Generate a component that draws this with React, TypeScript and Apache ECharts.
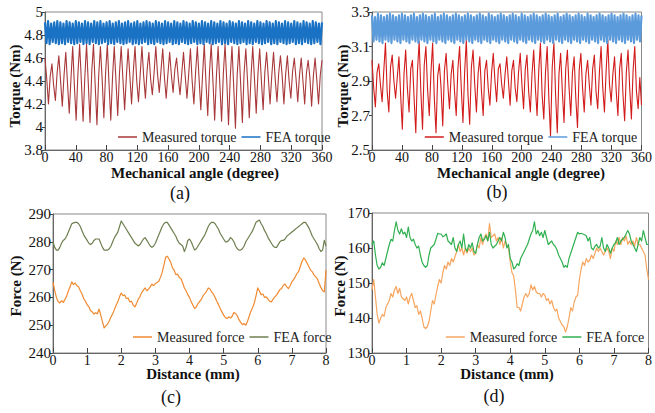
import React, { useEffect, useRef } from 'react';
import * as echarts from 'echarts';

const FONT = 'Liberation Serif';

// ---- (a) torque, 0..360 degree ----
const measuredTorqueA = [
  4.60,4.42,4.20,4.44, 4.55,4.36,4.23,4.47, 4.62,4.40,4.18,4.45, 4.65,4.38,4.12,4.42,
  4.70,4.35,4.06,4.46, 4.72,4.40,4.05,4.43, 4.72,4.38,4.04,4.48, 4.72,4.36,4.02,4.44,
  4.70,4.42,4.08,4.47, 4.72,4.37,4.06,4.43, 4.70,4.40,4.10,4.46, 4.70,4.42,4.15,4.44,
  4.68,4.45,4.20,4.48, 4.70,4.40,4.22,4.46, 4.70,4.44,4.25,4.50, 4.65,4.42,4.28,4.47,
  4.70,4.46,4.30,4.49, 4.68,4.43,4.25,4.46, 4.65,4.45,4.30,4.50, 4.60,4.42,4.28,4.47,
  4.65,4.44,4.25,4.46, 4.68,4.40,4.20,4.48, 4.70,4.42,4.15,4.45, 4.72,4.38,4.10,4.47,
  4.72,4.40,4.06,4.44, 4.70,4.37,4.05,4.46, 4.72,4.40,4.02,4.43, 4.70,4.35,3.99,4.45,
  4.70,4.38,4.04,4.47, 4.68,4.40,4.08,4.44, 4.70,4.42,4.12,4.46, 4.68,4.40,4.15,4.48,
  4.65,4.43,4.20,4.45, 4.65,4.41,4.22,4.47, 4.62,4.44,4.20,4.46, 4.62,4.40,4.25,4.48,
  4.60,4.42,4.22,4.45, 4.60,4.40,4.20,4.47, 4.58,4.43,4.18,4.44, 4.60,4.41,4.20,4.45,
  4.58,
];
const feaTorqueA = [
  4.91,4.73,4.92,4.72,4.90,4.74,4.91,4.73,4.92,4.72,4.91,4.73,4.90,4.72,4.92,4.74,4.91,4.73,4.90,4.72,
  4.92,4.73,4.91,4.74,4.90,4.72,4.92,4.73,4.91,4.72,4.90,4.74,4.92,4.73,4.91,4.72,4.92,4.73,4.90,4.74,
  4.91,4.72,4.92,4.73,4.90,4.72,4.91,4.74,4.92,4.73,4.90,4.72,4.91,4.73,4.92,4.74,4.90,4.72,4.91,4.73,
  4.92,4.72,4.90,4.73,4.91,4.74,4.92,4.72,4.91,4.73,4.90,4.72,4.92,4.74,4.91,4.73,4.90,4.72,4.92,4.73,
  4.91,4.74,4.90,4.72,4.92,4.73,4.91,4.72,4.90,4.74,4.92,4.73,4.91,4.72,4.90,4.73,4.92,4.74,4.91,4.72,
  4.90,4.73,4.92,4.72,4.91,4.74,4.90,4.73,4.92,4.72,4.91,4.73,4.90,4.74,4.92,4.72,4.91,4.73,4.90,4.72,
  4.92,4.74,4.91,4.73,4.90,4.72,4.92,4.73,4.91,4.74,4.90,4.72,4.92,4.73,4.91,4.72,4.90,4.74,4.92,4.73,
  4.91,4.72,4.90,4.73,4.92,4.74,4.91,4.72,4.90,4.73,4.92,4.72,4.91,4.74,4.90,4.73,4.92,4.72,4.91,4.73,
  4.90,4.74,4.92,4.72,4.91,4.73,4.90,4.72,4.92,4.74,4.91,4.73,4.90,4.72,4.92,4.73,4.91,4.74,4.90,4.72,
  4.91,
];

// ---- (b) torque, 0..360 degree ----
const measuredTorqueB = [
  3.02,2.86,2.75,2.95, 3.00,2.88,2.78,2.96, 3.12,2.84,2.72,2.98, 3.05,2.90,2.80,2.92,
  3.04,2.82,2.62,2.94, 3.08,2.86,2.72,2.97, 3.02,2.80,2.60,2.96, 3.13,2.84,2.62,2.99,
  3.10,2.85,2.70,2.95, 3.12,2.80,2.60,2.93, 3.00,2.86,2.64,2.96, 3.06,2.88,2.74,2.94,
  3.02,2.84,2.70,2.97, 3.10,2.86,2.66,2.95, 3.14,2.82,2.65,2.98, 3.08,2.88,2.72,2.94,
  3.04,2.84,2.70,2.96, 3.02,2.86,2.76,2.95, 3.06,2.90,2.78,2.97, 3.00,2.88,2.80,2.94,
  3.04,2.90,2.76,2.96, 3.02,2.86,2.78,2.95, 3.06,2.88,2.74,2.97, 3.05,2.84,2.72,2.94,
  3.08,2.86,2.70,2.96, 3.12,2.82,2.68,2.95, 3.10,2.80,2.58,2.98, 3.12,2.82,2.60,2.94,
  3.06,2.84,2.66,2.97, 3.08,2.86,2.70,2.95, 3.04,2.80,2.63,2.96, 3.06,2.86,2.72,2.94,
  3.02,2.88,2.76,2.97, 3.05,2.84,2.74,2.95, 3.10,2.86,2.72,2.96, 3.14,2.88,2.78,2.94,
  3.04,2.84,2.70,2.97, 3.06,2.82,2.67,2.95, 3.08,2.86,2.68,2.96, 3.10,2.84,2.74,2.92,
  2.76,
];
const feaTorqueB = [
  3.28,3.13,3.27,3.14,3.29,3.13,3.28,3.12,3.27,3.14,3.28,3.13,3.29,3.12,3.28,3.14,3.27,3.13,3.28,3.12,
  3.29,3.14,3.28,3.13,3.27,3.12,3.28,3.14,3.29,3.13,3.27,3.12,3.28,3.14,3.29,3.13,3.28,3.12,3.27,3.14,
  3.28,3.13,3.29,3.12,3.27,3.14,3.28,3.13,3.29,3.12,3.28,3.14,3.27,3.13,3.28,3.12,3.29,3.14,3.28,3.13,
  3.27,3.12,3.28,3.14,3.29,3.13,3.28,3.12,3.27,3.14,3.28,3.13,3.29,3.12,3.28,3.14,3.27,3.13,3.29,3.12,
  3.28,3.14,3.27,3.13,3.28,3.12,3.29,3.14,3.28,3.13,3.27,3.12,3.28,3.14,3.29,3.13,3.28,3.12,3.27,3.14,
  3.29,3.13,3.28,3.12,3.27,3.14,3.28,3.13,3.29,3.12,3.28,3.14,3.27,3.13,3.28,3.12,3.29,3.14,3.28,3.13,
  3.27,3.12,3.28,3.14,3.29,3.13,3.27,3.12,3.28,3.14,3.29,3.13,3.28,3.12,3.27,3.14,3.28,3.13,3.29,3.12,
  3.28,3.14,3.27,3.13,3.29,3.12,3.28,3.14,3.27,3.13,3.28,3.12,3.29,3.14,3.28,3.13,3.27,3.12,3.28,3.14,
  3.29,3.13,3.28,3.12,3.27,3.14,3.28,3.13,3.29,3.12,3.28,3.14,3.27,3.13,3.28,3.12,3.29,3.14,3.28,3.13,
  3.28,
];

// ---- (c) force, 0..8 mm, 0.05 mm steps ----
const measuredForceC = [
  265.5,262.5,260,258.5,258,258.8,258.2,259.2,260.5,262.3,263.8,265.6,264.6,265.2,264.2,263.8,262.4,261.2,259.6,258.6,
  257.4,256.6,255.2,254.8,254,254.5,254.1,255.8,253.6,251.2,249,249.8,250.4,251.6,253,254.1,255.6,257.2,258.4,260.2,
  261.6,260.6,260.9,259.6,259.8,258.4,258.6,257.2,256.6,257.8,259.4,260.3,261.8,262.6,263.4,262.4,263,263.8,264.8,264.2,
  265,265.4,265.8,267.2,269,271.6,274.4,274.8,273.8,272.6,270.6,269.8,268.2,268.4,267.2,266.8,265.2,263.4,262.4,261,
  260,258.4,257.2,256,256.6,257.8,258.6,259.4,260.6,261.4,262.2,263.4,263,262,261.2,260,258.6,257.4,256,254.8,
  253.6,252.8,252.4,253,252.6,253.2,254.6,254.2,253.4,252,251,250.2,250.6,250,251.4,253.2,255,256.4,258,260.6,
  263.4,262.2,261,261.2,260,260.2,259.4,258.6,258.4,259.4,260.2,260.8,261.8,262.8,263.2,264.4,264.8,263.8,263.2,264.2,
  265.6,266.4,267.4,268.6,269.4,271.2,273,274.2,273.4,272.2,271,269.8,269.2,268,267.4,266.6,265,263.6,262.4,262,
  269.8,
];
const feaForceC = [
  280,278,277,277,278,279.5,280.5,281,282,283.5,285,286.5,286.8,287,287,286.5,285.5,284,282.5,281.5,
  280.5,279.5,279,279.5,280.5,281,281,281,279.5,278,277,277,277,277.5,278.5,280,281.5,282.5,283.5,285.5,
  287.5,286.5,285.5,284.5,283.5,282.5,281.5,280.5,279.5,279,278.5,279,280,281,281.5,280.5,279.5,278.5,278,278.5,
  279.5,281,282.5,284,285.5,286.5,287,287,286,285,284,283,282,280.5,279.5,279,278.5,276.5,278,280.5,
  281,280,278.5,277,277.5,278.5,279.5,280.5,281.5,282.5,284,285.5,286.5,287,287,286.5,285.5,284.5,283,282,
  281,280,280,280.5,281.5,281,280,278.5,277.5,277,277,277.5,278.5,280,281,282,283,284,285.5,287,
  287.5,287.8,286.5,285.5,284,283,281.5,280.5,279.5,278.5,278,278,279,280,280.5,280.5,281,282,282.5,283,
  283.5,284,284.5,285,285.5,286,286.5,287,287,286,285,283.5,282,281,280,279,277.5,276.5,277,280.5,
  278.5,
];

// ---- (d) force, 0..8 mm, 0.05 mm steps ----
const measuredForceD = [
  148,151,146,141,138.5,140,141,140.5,143,144,145,147,146,148,149,147,148.5,146,145.5,145,
  146,144,146,147,145,143,143.5,141,142,140,137.5,137,137.5,139,142,145,144,146.5,149,151,
  150,153,155,154,156,155,157,156,157.5,159,161,159,160,158,160,158.5,160,159,160,158,
  158.5,161,160,163,161,163,164,162,167,163,163.5,164,162,163,161,163,160,162,161,160,
  156,153,152,148,143,143,142,144,146,147,146,147,149.5,148,149,147.5,147,147,146,147,
  146.5,145,145.5,144,145,143,142,142.5,140,139,138,137.5,136,137.5,140,143,142,144.5,146,146.5,
  151,154,156,155,157,156,156.5,158,157,158.5,160,159,160,159,158,159,160,159,157,160,
  159,162,161,163,161,163,162,163.5,161,162,161,162,160.5,163,161,161,160,159,158,154,
  151,
];
const feaForceD = [
  161,162,158,155,154,154.5,155.8,155,157,159,161,162.5,162,165,167.5,165,164,165.5,164,164.5,
  163,166,163,162,162.5,161,160,160.5,158,156,155,154.5,155,158,160,160.5,161,162.5,164.2,164,
  164,163.2,163.5,164,162,161.5,161,163,160,159,161,162,160,164,160,159,161,160,161.5,159,
  158.5,161,163,164,162,162.5,163.5,162,164.5,161,160,160.5,161,162,163,162,164.5,163,160,161,
  157,156,154,154.5,155.5,155,157,158,159,160,161,162.5,164,165,167.5,164,165,163.5,164.5,163,
  165,163,161,161.5,162,161,160.5,159.5,158,157,156,154.5,155,154.5,157,158.5,160,161.5,163,164.5,
  164,164.2,164,163.8,163.5,162,163,160,159.5,160.5,161,160,160.5,163,160,159,161,160,158.5,160,
  161,161.5,163,161,162,162.5,163,164,165,164,162,161,160,159,161,163,162,165,163,161,
  161,
];

const angleRange = [0, 360];
const distanceRange = [0, 8];

function toPairs(values: number[], range: number[]) {
  const n = values.length - 1;
  return values.map((v, i) => [range[0] + ((range[1] - range[0]) * i) / n, v]);
}

const LABELS: Record<string, string> = {
  mA: 'Measured torque', fA: 'FEA torque',
  mB: 'Measured torque', fB: 'FEA torque',
  mC: 'Measured force', fC: 'FEA force',
  mD: 'Measured force', fD: 'FEA force',
};

const grids = [
  { left: 45, top: 12, width: 277, height: 138 },
  { left: 372, top: 12, width: 275, height: 138 },
  { left: 53, top: 214, width: 273, height: 139 },
  { left: 372, top: 213, width: 279, height: 140 },
];

function xAxis(gridIndex: number, min: number, max: number, interval: number) {
  return {
    gridIndex, type: 'value', min, max, interval,
    axisLine: { show: true, lineStyle: { color: '#666', width: 1 } },
    axisTick: { show: true, inside: true, length: 5, lineStyle: { color: '#444' } },
    axisLabel: { color: '#111', fontSize: 14, fontFamily: FONT, margin: 0, showMinLabel: true, showMaxLabel: true },
    splitLine: { show: false },
  };
}
function yAxis(gridIndex: number, min: number, max: number, interval: number) {
  return {
    gridIndex, type: 'value', min, max, interval,
    axisLine: { show: true, lineStyle: { color: '#666', width: 1 } },
    axisTick: { show: true, inside: false, length: 3, lineStyle: { color: '#444' } },
    axisLabel: { color: '#111', fontSize: 15, fontFamily: FONT, margin: 2, showMinLabel: true, showMaxLabel: true },
    splitLine: { show: false },
  };
}
function line(name: string, idx: number, data: number[][], color: string, width: number) {
  return {
    name, type: 'line', xAxisIndex: idx, yAxisIndex: idx, data,
    symbol: 'none', showSymbol: false, smooth: false,
    lineStyle: { color, width, join: 'round' }, itemStyle: { color },
    emphasis: { disabled: true }, silent: true,
  };
}
function legend(names: string[], pos: Record<string, number>) {
  return {
    data: names, ...pos, orient: 'horizontal', padding: 0,
    icon: 'rect', itemWidth: 19, itemHeight: 1.5, itemGap: 5,
    formatter: (n: string) => LABELS[n],
    textStyle: { fontSize: 14, fontFamily: FONT, color: '#222' },
    selectedMode: false,
  };
}
function txt(text: string, x: number, y: number, size: number, bold: boolean, rotate = false) {
  return {
    type: 'text', x, y, rotation: rotate ? Math.PI / 2 : 0, silent: true,
    style: {
      text, textAlign: 'center', textVerticalAlign: 'middle',
      fontSize: size, fontWeight: bold ? 'bold' : 'normal', fontFamily: FONT, fill: '#111',
    },
  };
}

export default function App() {
  const ref = useRef<HTMLDivElement>(null);
  useEffect(() => {
    const chart = echarts.init(ref.current!, null, { renderer: 'svg', width: 655, height: 413 });
    const option: any = {
      animation: false,
      backgroundColor: '#fff',
      textStyle: { fontFamily: FONT },
      grid: grids.map((g) => ({ ...g, show: true, borderColor: '#888', borderWidth: 1, backgroundColor: 'transparent', containLabel: false })),
      xAxis: [
        xAxis(0, 0, 360, 40), xAxis(1, 0, 360, 40),
        xAxis(2, 0, 8, 1), xAxis(3, 0, 8, 1),
      ],
      yAxis: [
        yAxis(0, 3.8, 5, 0.2), yAxis(1, 2.5, 3.3, 0.2),
        yAxis(2, 240, 290, 10), yAxis(3, 130, 170, 10),
      ],
      legend: [
        legend(['mA', 'fA'], { left: 118, top: 130 }),
        legend(['mB', 'fB'], { right: 17, top: 130 }),
        legend(['mC', 'fC'], { left: 133, top: 330 }),
        legend(['mD', 'fD'], { right: 10, top: 330 }),
      ],
      series: [
        line('mA', 0, toPairs(measuredTorqueA, angleRange), '#a8383a', 1.1),
        line('fA', 0, toPairs(feaTorqueA, angleRange), '#1a72c4', 2.2),
        line('mB', 1, toPairs(measuredTorqueB, angleRange), '#d21c1c', 1.1),
        line('fB', 1, toPairs(feaTorqueB, angleRange), '#5b9bdb', 2.2),
        line('mC', 2, toPairs(measuredForceC, distanceRange), '#f08a30', 1.2),
        line('fC', 2, toPairs(feaForceC, distanceRange), '#6e7f50', 1.2),
        line('mD', 3, toPairs(measuredForceD, distanceRange), '#f6a660', 1.2),
        line('fD', 3, toPairs(feaForceD, distanceRange), '#30b050', 1.2),
      ],
      graphic: [
        txt('Mechanical angle (degree)', 195, 173, 15, true),
        txt('Mechanical angle (degree)', 521, 173, 15, true),
        txt('Distance (mm)', 193, 374, 15, true),
        txt('Distance (mm)', 507, 374, 15, true),
        txt('Torque (Nm)', 15, 86, 15, true, true),
        txt('Torque (Nm)', 343, 86, 15, true, true),
        txt('Force (N)', 16, 286, 15, true, true),
        txt('Force (N)', 340, 286, 15, true, true),
        txt('(a)', 180, 193, 18, false),
        txt('(b)', 497, 192, 18, false),
        txt('(c)', 171, 397, 18, false),
        txt('(d)', 494, 396, 18, false),
      ],
    };
    chart.setOption(option);
    return () => chart.dispose();
  }, []);
  return (
    <div
      ref={ref}
      style={{ position: 'fixed', left: 0, top: 0, width: 655, height: 413, background: '#fff' }}
    />
  );
}
